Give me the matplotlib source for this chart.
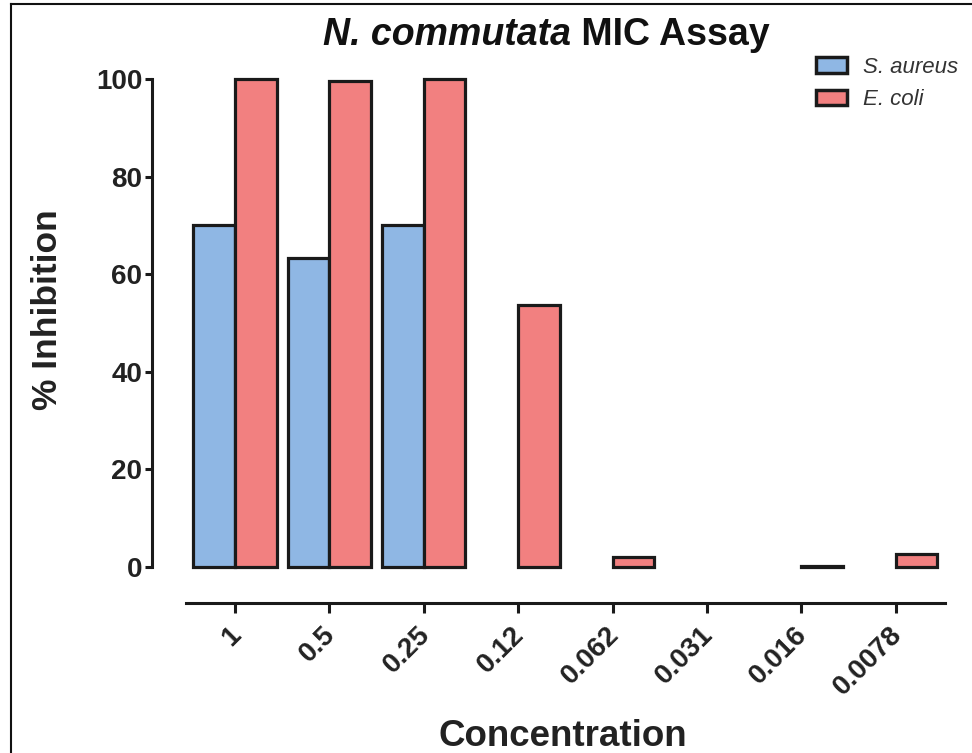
import matplotlib
matplotlib.use("Agg")
import matplotlib.pyplot as plt
import matplotlib.transforms as mtrans
import numpy as np
from matplotlib import font_manager
from matplotlib.lines import Line2D

categories = ["1", "0.5", "0.25", "0.12", "0.062", "0.031", "0.016", "0.0078"]
s_aureus = [70.0, 63.3, 70.1, np.nan, np.nan, np.nan, np.nan, np.nan]
e_coli = [100.0, 99.6, 100.0, 53.7, 2.0, np.nan, 0.3, 2.7]
series_names = ["S. aureus", "E. coli"]
y_ticks = [0, 20, 40, 60, 80, 100]

blue = "#8FB7E4"
red = "#F28080"
edge = "#1a1a1a"

names = {f.name for f in font_manager.fontManager.ttflist}
base = "Liberation Sans" if "Liberation Sans" in names else "DejaVu Sans"
narrow = "Liberation Sans Narrow" if "Liberation Sans Narrow" in names else base
plt.rcParams["font.family"] = [base, "DejaVu Sans"]

W, H = 972, 753
fig = plt.figure(figsize=(W / 100, H / 100), dpi=100)

x0px, x1px = 152, 945
ytop, ybot = 79, 567
ax = fig.add_axes([x0px / W, (H - ybot) / H, (x1px - x0px) / W, (ybot - ytop) / H])

sp = 94.4
c0 = 235
xmin = (x0px - c0) / sp
xmax = (x1px - c0) / sp
ax.set_xlim(xmin, xmax)
ax.set_ylim(0, 100)

x = np.arange(len(categories))
bw = 0.44
lw = 2.3
ax.bar(x - bw / 2, s_aureus, width=bw, color=blue, edgecolor=edge, linewidth=lw,
       label=series_names[0], clip_on=False, zorder=3)
ax.bar(x + bw / 2, e_coli, width=bw, color=red, edgecolor=edge, linewidth=lw,
       label=series_names[1], clip_on=False, zorder=3)

for s in ["top", "right"]:
    ax.spines[s].set_visible(False)
ax.spines["left"].set_linewidth(2.2)
ax.spines["left"].set_bounds(0, 100)
ax.spines["left"].set_color(edge)
ax.spines["bottom"].set_linewidth(2.2)
ax.spines["bottom"].set_color(edge)
ax.spines["bottom"].set_position(("outward", 36 * 0.72))
ax.spines["bottom"].set_bounds((186 - c0) / sp, xmax)

ax.set_yticks(y_ticks)
ax.set_yticklabels([str(v) for v in y_ticks], fontsize=20, fontweight="bold", color="#222222")
ax.set_xticks(x)
ax.set_xticklabels(categories, fontsize=20, fontweight="bold", color="#222222",
                   rotation=45, ha="right", va="top", rotation_mode="anchor")
ax.tick_params(axis="y", direction="out", length=5, width=2.2, color=edge, pad=2)
ax.tick_params(axis="x", direction="out", length=7, width=2.2, color=edge, pad=5)
offset = mtrans.ScaledTranslation(-7 / 100, -2 / 100, fig.dpi_scale_trans)
for lab in ax.get_xticklabels():
    lab.set_transform(lab.get_transform() + offset)

fig.text(48 / W, 1 - 310 / H, "% Inhibition", rotation=90, fontsize=25.5,
         fontweight="bold", color="#222222", ha="center", va="center")
fig.text(563 / W, 1 - 736 / H, "Concentration", fontsize=26.5,
         fontweight="bold", color="#222222", ha="center", va="center")

t1 = fig.text(0, 0, "N. commutata", family=narrow, fontsize=27, fontweight="bold",
              style="italic", color="#111111")
t2 = fig.text(0, 0, " MIC Assay", family=narrow, fontsize=27, fontweight="bold",
              color="#111111")
fig.canvas.draw()
r = fig.canvas.get_renderer()
w1 = t1.get_window_extent(r).width
w2 = t2.get_window_extent(r).width
cx = 546
left = cx - (w1 + w2) / 2
ty = 1 - 45 / H
t1.set_position((left / W, ty))
t2.set_position(((left + w1) / W, ty))

leg = ax.legend(loc="upper left", bbox_to_anchor=(816 / W, 1 - 57 / H),
                bbox_transform=fig.transFigure, frameon=False,
                prop={"size": 16, "style": "italic"}, handlelength=1.4,
                handleheight=0.7, labelspacing=0.5, handletextpad=0.7,
                borderaxespad=0, borderpad=0)
for t in leg.get_texts():
    t.set_color("#333333")
for p in leg.get_patches():
    p.set_linewidth(2.5)

fig.add_artist(Line2D([11 / W, 11 / W], [0, 1 - 4 / H], transform=fig.transFigure,
                      color="#111111", linewidth=1.5))
fig.add_artist(Line2D([11 / W, 1], [1 - 4 / H, 1 - 4 / H], transform=fig.transFigure,
                      color="#111111", linewidth=1.5))

fig.savefig("out.png", dpi=100)
